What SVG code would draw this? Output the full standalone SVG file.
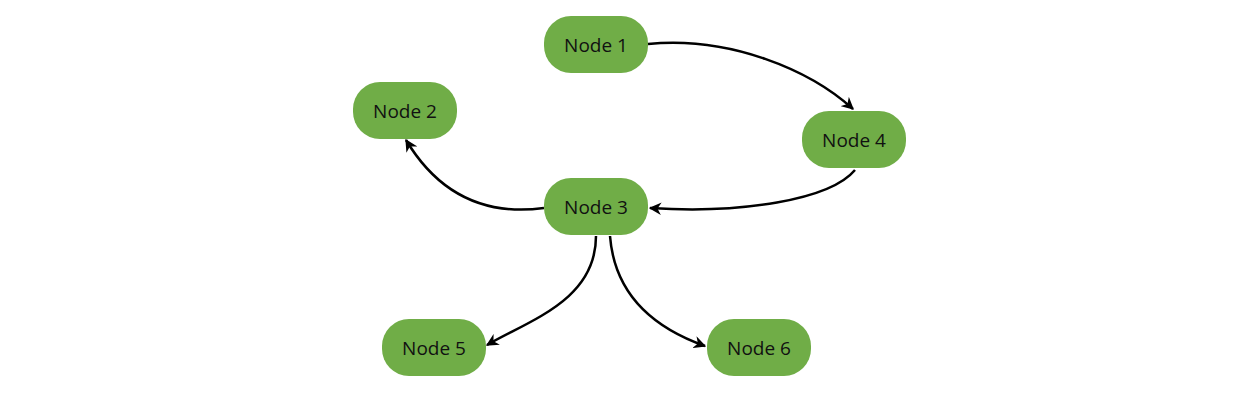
<svg xmlns="http://www.w3.org/2000/svg" width="1259" height="413" viewBox="0 0 1259 413">
<style>
.n rect{fill:#70AD47;}
.n text{font-family:"Open Sans","Liberation Sans",sans-serif;font-size:19px;fill:#111;text-anchor:middle;dominant-baseline:central;}
.c path{fill:none;stroke:#000;stroke-width:2.5;marker-end:url(#a);}
</style>
<defs><marker id="a" viewBox="0 0 10 10" refX="9" refY="5" markerWidth="5" markerHeight="5" orient="auto" markerUnits="strokeWidth"><path d="M0,0 L10,5 L0,10 L3,5 Z" fill="#000"/></marker></defs>
<rect width="1259" height="413" fill="#fff"/>
<g class="c">
<path d="M648,44 C730,36 810,70 853,109"/>
<path d="M855,170 C830,200 740,214 650,208"/>
<path d="M544,208 C470,218 430,180 406,140"/>
<path d="M596,236 C596,300 530,320 487,345"/>
<path d="M610,236 C615,300 660,330 705,346"/>
</g>
<g id="node1" class="n"><rect x="544" y="16" width="104" height="57" rx="27"/><text x="596" y="44.5">Node 1</text></g>
<g id="node2" class="n"><rect x="353" y="82" width="104" height="57" rx="27"/><text x="405" y="110.5">Node 2</text></g>
<g id="node4" class="n"><rect x="802" y="111" width="104" height="57" rx="27"/><text x="854" y="139.5">Node 4</text></g>
<g id="node3" class="n"><rect x="544" y="178" width="104" height="57" rx="27"/><text x="596" y="206.5">Node 3</text></g>
<g id="node5" class="n"><rect x="382" y="319" width="104" height="57" rx="27"/><text x="434" y="347.5">Node 5</text></g>
<g id="node6" class="n"><rect x="707" y="319" width="104" height="57" rx="27"/><text x="759" y="347.5">Node 6</text></g>
</svg>
